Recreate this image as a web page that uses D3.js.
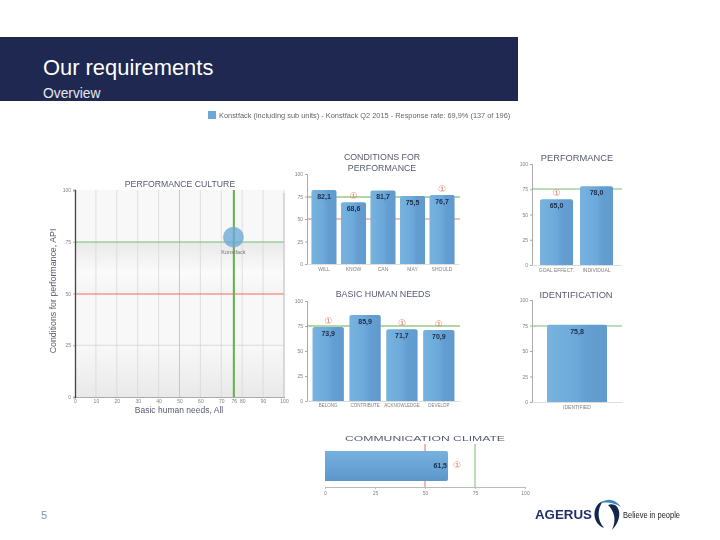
<!DOCTYPE html>
<html>
<head>
<meta charset="utf-8">
<script src="https://cdn.jsdelivr.net/npm/d3@7"></script>
<style>
  html, body { margin: 0; padding: 0; background: #fff; }
  svg { display: block; font-family: "Liberation Sans", Arial, sans-serif; }
  .tick text { fill: #808080; font-size: 5px; }
</style>
</head>
<body>
<svg id="chart" width="720" height="540"></svg>
<script>
// slide text
const slideTitle = "Our requirements";
const slideSubtitle = "Overview";
const legendText = "Konstfack (including sub units) - Konstfack Q2 2015 - Response rate: 69,9%  (137 of 196)";

// scatter
const bubbleX = [75.8];
const bubbleY = [77.2];
const bubbleNames = ["Konstfack"];
const scatterXTicks = [0, 10, 20, 30, 40, 50, 60, 70, 76, 80, 90, 100];
const scatterYTicks = [0, 25, 50, 75, 100];

// bar charts
const conditionsCats = ["WILL", "KNOW", "CAN", "MAY", "SHOULD"];
const conditionsVals = [82.1, 68.6, 81.7, 75.5, 76.7];
const conditionsFlags = [false, true, false, false, true];

const needsCats = ["BELONG", "CONTRIBUTE", "ACKNOWLEDGE", "DEVELOP"];
const needsVals = [73.9, 85.9, 71.7, 70.9];
const needsFlags = [true, false, true, true];

const perfCats = ["GOAL EFFECT.", "INDIVIDUAL"];
const perfVals = [65.0, 78.0];
const perfFlags = [true, false];

const identCats = ["IDENTIFIED"];
const identVals = [75.8];

const commVal = [61.5];
const valueTicks = [0, 25, 50, 75, 100];

const svg = d3.select("#chart");
const defs = svg.append("defs");
const comma = d3.formatLocale({ decimal: ",", thousands: ".", grouping: [3], currency: ["", ""] }).format(".1f");

const navy = "#1e2850";
const red = "#f0685a";
const green = "#62b04e";
const paleGreen = "#78bc72";
const titleColor = "#555a70";

// slightly soft look, the reference is a scaled screenshot
defs.append("filter").attr("id", "soft").attr("color-interpolation-filters", "sRGB")
    .append("feGaussianBlur").attr("stdDeviation", 0.35);

function gradient(id, x2, y2, stops) {
    let g = defs.append("linearGradient").attr("id", id)
        .attr("x1", 0).attr("y1", 0).attr("x2", x2).attr("y2", y2);
    stops.forEach(s => g.append("stop").attr("offset", s[0]).attr("stop-color", s[1]));
}
gradient("barH", 1, 0, [[0, "#78b3df"], [0.5, "#6ca9da"], [0.65, "#649ed2"], [1, "#629acc"]]);
gradient("barV", 0, 1, [[0, "#76b1de"], [0.7, "#659fd2"], [1, "#5c95c8"]]);
gradient("band1", 0, 1, [[0, "#e9e9e9"], [0.6, "#fbfbfb"], [1, "#f4f4f4"]]);
gradient("band2", 0, 1, [[0, "#f8f8f8"], [1, "#e9e9e9"]]);

// header
svg.append("rect").attr("x", 0).attr("y", 37).attr("width", 518).attr("height", 64).attr("fill", navy);
svg.append("text").attr("x", 43).attr("y", 75).attr("fill", "#fff").attr("font-size", 21.9).text(slideTitle);
svg.append("text").attr("x", 43).attr("y", 98).attr("fill", "#e6e8ef").attr("font-size", 13.8).text(slideSubtitle);
svg.append("text").attr("x", 41).attr("y", 519).attr("fill", "#8a93a8").attr("font-size", 11).text("5");

const soft = svg.append("g").attr("filter", "url(#soft)");

// legend
soft.append("rect").attr("x", 208).attr("y", 111).attr("width", 8).attr("height", 8).attr("fill", "#6aa8d9");
soft.append("text").attr("x", 219).attr("y", 118).attr("fill", "#666").attr("font-size", 7.4).text(legendText);

// performance culture scatter
function drawScatter() {
    const x = d3.scaleLinear().domain([0, 100]).range([75, 284]);
    const y = d3.scaleLinear().domain([0, 100]).range([397, 190]);
    const g = soft.append("g");

    g.append("rect").attr("x", x(0)).attr("y", y(100)).attr("width", x(100) - x(0)).attr("height", y(0) - y(100))
        .attr("fill", "#f8f8f8");
    g.append("rect").attr("x", x(0)).attr("y", y(75)).attr("width", x(100) - x(0)).attr("height", y(50) - y(75))
        .attr("fill", "url(#band1)");
    g.append("rect").attr("x", x(0)).attr("y", y(25)).attr("width", x(100) - x(0)).attr("height", y(0) - y(25))
        .attr("fill", "url(#band2)");

    // grid
    g.selectAll(".vgrid").data(scatterXTicks.filter(d => d % 10 == 0 && d != 50 && d != 0)).enter().append("line")
        .attr("x1", d => x(d)).attr("x2", d => x(d)).attr("y1", y(0)).attr("y2", y(100))
        .attr("stroke", "#d8d8d8").attr("stroke-width", 0.8);
    g.selectAll(".hgrid").data([25]).enter().append("line")
        .attr("x1", x(0)).attr("x2", x(100)).attr("y1", d => y(d)).attr("y2", d => y(d))
        .attr("stroke", "#d4d4d4").attr("stroke-width", 0.8);

    // reference lines, rounded so they straddle two pixel rows like the scaled reference
    g.append("line").attr("x1", x(50)).attr("x2", x(50)).attr("y1", y(0)).attr("y2", y(100)).attr("stroke", "#f0b0aa").attr("stroke-width", 0.9);
    g.append("line").attr("x1", x(0)).attr("x2", x(100)).attr("y1", Math.round(y(50))).attr("y2", Math.round(y(50))).attr("stroke", red).attr("stroke-width", 1);
    g.append("line").attr("x1", x(0)).attr("x2", x(100)).attr("y1", Math.round(y(75))).attr("y2", Math.round(y(75))).attr("stroke", paleGreen).attr("stroke-width", 1);
    g.append("line").attr("x1", x(76)).attr("x2", x(76)).attr("y1", y(0)).attr("y2", y(100)).attr("stroke", green).attr("stroke-width", 2);

    // bubble
    g.selectAll(".bubble").data(bubbleX).enter().append("circle")
        .attr("cx", d => x(d)).attr("cy", (d, i) => y(bubbleY[i])).attr("r", 10)
        .attr("fill", "#6aa8d9").attr("fill-opacity", 0.78).attr("stroke", "#7fa9cc").attr("stroke-width", 0.6);
    g.selectAll(".bubbleName").data(bubbleX).enter().append("text")
        .attr("x", d => x(d)).attr("y", (d, i) => y(bubbleY[i]) + 17).attr("text-anchor", "middle")
        .attr("font-size", 5.5).attr("fill", "#777").text((d, i) => bubbleNames[i]);

    // axes
    const xAxis = g.append("g").attr("transform", `translate(0,${y(0)})`)
        .call(d3.axisBottom(x).tickValues(scatterXTicks).tickSize(1).tickPadding(1));
    xAxis.select(".domain").attr("stroke", "#aaa");
    xAxis.selectAll(".tick line").attr("stroke", "#aaa");
    const yAxis = g.append("g").attr("transform", `translate(${x(0)},0)`)
        .call(d3.axisLeft(y).tickValues(scatterYTicks).tickSize(2).tickPadding(2));
    yAxis.select(".domain").attr("stroke", "#444").attr("stroke-width", 1.3);
    yAxis.selectAll(".tick line").attr("stroke", "#aaa");
    g.append("line").attr("x1", x(100)).attr("x2", x(100)).attr("y1", y(100) + 3).attr("y2", y(0)).attr("stroke", "#c4c4c4");

    g.append("text").attr("x", 180).attr("y", 187).attr("text-anchor", "middle").attr("font-size", 8.7)
        .attr("fill", titleColor).text("PERFORMANCE CULTURE");
    g.append("text").attr("x", 179).attr("y", 413).attr("text-anchor", "middle").attr("font-size", 8.5)
        .attr("fill", titleColor).text("Basic human needs, All");
    g.append("text").attr("transform", "translate(56,291) rotate(-90)").attr("text-anchor", "middle").attr("font-size", 8.8)
        .attr("fill", titleColor).text("Conditions for performance, API");
}

// vertical bar chart with reference lines at 50 and 75
function drawBars(cfg) {
    const x = d3.scaleBand().domain(cfg.cats).range([cfg.left, cfg.right]).paddingInner(cfg.inner).paddingOuter(cfg.outer);
    const y = d3.scaleLinear().domain([0, 100]).range([cfg.bottom, cfg.top]);
    const g = soft.append("g");

    const yAxis = g.append("g").attr("transform", `translate(${cfg.left},0)`)
        .call(d3.axisLeft(y).tickValues(valueTicks).tickSize(2).tickPadding(2));
    yAxis.select(".domain").attr("stroke", "#aaa");
    yAxis.selectAll(".tick line").attr("stroke", "#aaa");
    const xAxis = g.append("g").attr("transform", `translate(0,${cfg.bottom})`)
        .call(d3.axisBottom(x).tickSize(0).tickPadding(3));
    xAxis.select(".domain").attr("stroke", "#ddd");
    xAxis.selectAll(".tick text").style("font-size", cfg.catSize + "px");

    if (cfg.showRed) {
        g.append("line").attr("x1", cfg.left).attr("x2", cfg.lineEnd).attr("y1", Math.round(y(50))).attr("y2", Math.round(y(50))).attr("stroke", red).attr("stroke-width", 0.9);
    }
    g.append("line").attr("x1", cfg.left).attr("x2", cfg.lineEnd).attr("y1", Math.round(y(75))).attr("y2", Math.round(y(75))).attr("stroke", cfg.lineColor).attr("stroke-width", 1.1);

    g.selectAll(".bar").data(cfg.vals).enter().append("path")
        .attr("d", (d, i) => {
            let bx = x(cfg.cats[i]), w = x.bandwidth(), t = y(d), b = y(0), r = 2;
            return `M${bx},${b}V${t + r}Q${bx},${t} ${bx + r},${t}H${bx + w - r}Q${bx + w},${t} ${bx + w},${t + r}V${b}Z`;
        })
        .attr("fill", "url(#barH)");

    g.selectAll(".val").data(cfg.vals).enter().append("text")
        .attr("x", (d, i) => x(cfg.cats[i]) + x.bandwidth() / 2).attr("y", d => y(d) + 9)
        .attr("text-anchor", "middle").attr("font-size", 7).attr("font-weight", "bold").attr("fill", "#1c2c48")
        .text(d => comma(d));

    // warning markers above flagged bars
    g.selectAll(".flag").data(cfg.vals.map((d, i) => ({ d: d, cat: cfg.cats[i], on: cfg.flags[i] })).filter(f => f.on))
        .enter().append("text")
        .attr("x", f => x(f.cat) + x.bandwidth() / 2).attr("y", f => y(f.d) - 3)
        .attr("text-anchor", "middle").attr("font-size", 9).attr("fill", "#e07a5f")
        .style("font-family", "DejaVu Sans").text("\u2460");

    cfg.title.forEach((t, i) => {
        g.append("text").attr("x", cfg.titleX).attr("y", cfg.titleY + i * 10.5).attr("text-anchor", "middle")
            .attr("font-size", cfg.titleSize).attr("fill", titleColor).text(t);
    });
}

// horizontal communication climate bar
function drawComm() {
    const x = d3.scaleLinear().domain([0, 100]).range([325, 525]);
    const g = soft.append("g");
    const axis = g.append("g").attr("transform", "translate(0,487)")
        .call(d3.axisBottom(x).tickValues(valueTicks).tickSize(2).tickPadding(2));
    axis.select(".domain").attr("stroke", "#bbb");
    axis.selectAll(".tick line").attr("stroke", "#bbb");

    g.append("line").attr("x1", x(50)).attr("x2", x(50)).attr("y1", 444).attr("y2", 487).attr("stroke", red).attr("stroke-width", 1);
    g.append("line").attr("x1", x(75)).attr("x2", x(75)).attr("y1", 444).attr("y2", 487).attr("stroke", paleGreen).attr("stroke-width", 1);

    g.selectAll(".bar").data(commVal).enter().append("path")
        .attr("d", d => `M${x(0)},451H${x(d) - 2}Q${x(d)},451 ${x(d)},453V479Q${x(d)},481 ${x(d) - 2},481H${x(0)}Z`)
        .attr("fill", "url(#barV)");
    g.selectAll(".val").data(commVal).enter().append("text")
        .attr("x", d => x(d) - 1).attr("y", 468).attr("text-anchor", "end")
        .attr("font-size", 7).attr("font-weight", "bold").attr("fill", "#1c2c48").text(d => comma(d));
    g.selectAll(".flag").data(commVal).enter().append("text")
        .attr("x", d => x(d) + 9).attr("y", 468).attr("text-anchor", "middle")
        .attr("font-size", 9).attr("fill", "#e07a5f").style("font-family", "DejaVu Sans").text("\u2460");

    g.append("text").attr("x", 425).attr("y", 441).attr("text-anchor", "middle").attr("font-size", 8)
        .attr("textLength", 160).attr("lengthAdjust", "spacingAndGlyphs").attr("fill", titleColor).text("COMMUNICATION CLIMATE");
}

// logo
function drawLogo() {
    const g = soft.append("g");
    g.append("text").attr("x", 535).attr("y", 519).attr("font-size", 12).attr("font-weight", "bold")
        .attr("textLength", 57).attr("lengthAdjust", "spacingAndGlyphs").attr("fill", "#1f2f6b").text("AGERUS");
    g.append("path").attr("d", "M603,501 C592,505 591,523 604,528 C597,520 597,509 603,501Z").attr("fill", "#12264f");
    g.append("path").attr("d", "M608,505 C619,501 625,517 612,530 C617,519 614,511 608,505Z").attr("fill", "#12264f");
    g.append("path").attr("d", "M600,503 Q612,495 621,507 Q612,501 600,503Z").attr("fill", "#3f86bd");
    g.append("text").attr("x", 623).attr("y", 518).attr("font-size", 8.6).attr("textLength", 57)
        .attr("lengthAdjust", "spacingAndGlyphs").attr("fill", "#222").text("Believe in people");
}

drawScatter();
drawBars({ cats: conditionsCats, vals: conditionsVals, flags: conditionsFlags, left: 307, right: 459, lineEnd: 460,
    top: 174, bottom: 264, inner: 0.15, outer: 0.15, title: ["CONDITIONS FOR", "PERFORMANCE"], titleX: 382, titleY: 160,
    titleSize: 8.8, catSize: 5, showRed: true, lineColor: green });
drawBars({ cats: needsCats, vals: needsVals, flags: needsFlags, left: 307, right: 460, lineEnd: 460,
    top: 301, bottom: 401, inner: 0.15, outer: 0.15, title: ["BASIC HUMAN NEEDS"], titleX: 383, titleY: 297,
    titleSize: 8.9, catSize: 4.5, showRed: false, lineColor: green });
drawBars({ cats: perfCats, vals: perfVals, flags: perfFlags, left: 532, right: 621, lineEnd: 622,
    top: 164, bottom: 265, inner: 0.175, outer: 0.2, title: ["PERFORMANCE"], titleX: 577, titleY: 161,
    titleSize: 9.3, catSize: 5, showRed: false, lineColor: paleGreen });
drawBars({ cats: identCats, vals: identVals, flags: [false], left: 532, right: 622, lineEnd: 622,
    top: 300, bottom: 402, inner: 0, outer: 0.25, title: ["IDENTIFICATION"], titleX: 576, titleY: 298,
    titleSize: 9.3, catSize: 5, showRed: false, lineColor: paleGreen });
drawComm();
drawLogo();
</script>
</body>
</html>
